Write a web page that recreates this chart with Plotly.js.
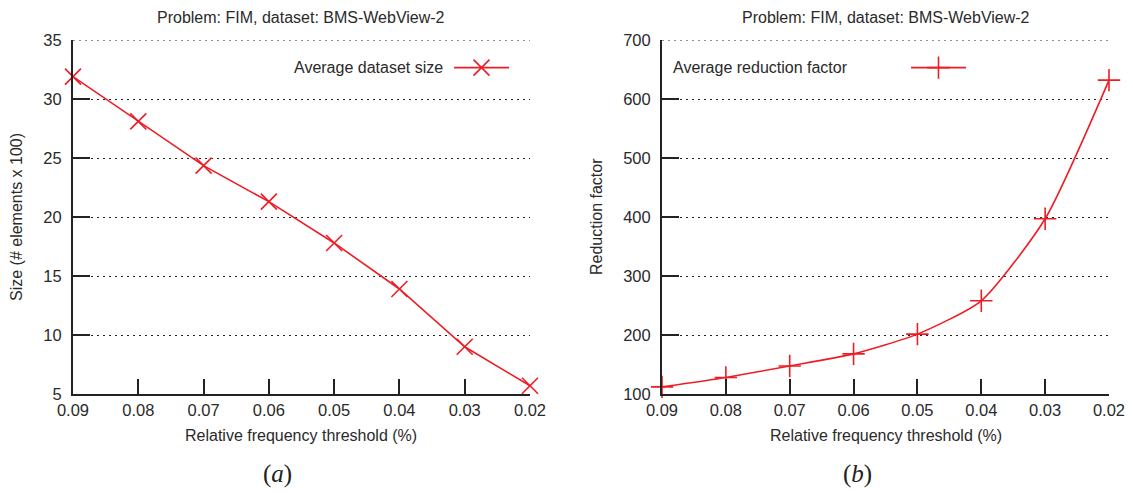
<!DOCTYPE html>
<html>
<head>
<meta charset="utf-8">
<script src="https://cdn.plot.ly/plotly-3.0.1.min.js"></script>
<style>html,body{margin:0;padding:0;background:#fff;}#chart{width:1133px;height:493px;}</style>
</head>
<body>
<div id="chart"></div>
<script>
// ---- data ----
const thresholds = [0.09, 0.08, 0.07, 0.06, 0.05, 0.04, 0.03, 0.02];
const thresholdLabels = ["0.09", "0.08", "0.07", "0.06", "0.05", "0.04", "0.03", "0.02"];
const avgDatasetSize = [31.9, 28.1, 24.35, 21.3, 17.8, 13.9, 9.0, 5.7];
const avgReductionFactor = [112, 128, 147.5, 168, 201.5, 258, 397, 632];
const sizeTicks = [5, 10, 15, 20, 25, 30, 35];
const factorTicks = [100, 200, 300, 400, 500, 600, 700];
const titleText = "Problem: FIM, dataset: BMS-WebView-2";
const xTitleText = "Relative frequency threshold (%)";
const leftYTitle = "Size (# elements x 100)";
const rightYTitle = "Reduction factor";
const leftLegendText = "Average dataset size";
const rightLegendText = "Average reduction factor";

// ---- layout helpers ----
const W = 1133, H = 493, T = 40, B = 99;
const PH = H - T - B;
const px = x => x / W;
const py = y => (H - B - y) / PH;
const RED = '#ee1d25';
const FONT = '"Liberation Sans", Arial, sans-serif';
const TXT = '#2a2a2a';

const traces = [
  {
    x: thresholds, y: avgDatasetSize, xaxis: 'x', yaxis: 'y',
    type: 'scatter', mode: 'lines+markers', name: ' ',
    line: {color: RED, width: 1.6},
    marker: {symbol: 'x-thin', size: 16, line: {color: RED, width: 1.6}, color: RED},
    cliponaxis: false, legend: 'legend'
  },
  {
    x: thresholds, y: avgReductionFactor, xaxis: 'x2', yaxis: 'y2',
    type: 'scatter', mode: 'lines+markers', name: ' ',
    line: {color: RED, width: 1.6, shape: 'spline', smoothing: 0.6},
    marker: {symbol: 'cross-thin', size: 16, line: {color: RED, width: 1.6}, color: RED},
    cliponaxis: false, legend: 'legend2'
  }
];

const xBase = {
  range: [0.09, 0.02], tickvals: thresholds, ticktext: thresholdLabels,
  ticks: 'inside', ticklen: 15, tickwidth: 2, tickcolor: '#222',
  showline: true, linewidth: 2, linecolor: '#222',
  showgrid: false, zeroline: false,
  tickfont: {family: FONT, size: 16.5, color: TXT}
};
const yBase = {
  ticks: 'inside', ticklen: 17, tickwidth: 2, tickcolor: '#222',
  showline: true, linewidth: 2, linecolor: '#222',
  showgrid: true, gridcolor: '#222', gridwidth: 1, griddash: '2px,4px',
  zeroline: false, ticklabelstandoff: 6,
  tickfont: {family: FONT, size: 16.5, color: TXT}
};

const annFont = {family: FONT, size: 16, color: TXT};
const ann = (x, y, text, extra) => Object.assign({
  xref: 'paper', yref: 'paper', x: px(x), y: py(y), text: text,
  showarrow: false, font: annFont, xanchor: 'center', yanchor: 'middle'
}, extra || {});
const capFont = {family: '"Liberation Serif", "DejaVu Serif", serif', size: 25, color: '#222'};

// top gridlines (at the last tick of each y axis), drawn as dotted shapes
const topGrid = (xr, yr, yv) => ({
  type: 'line', xref: xr + ' domain', yref: yr, x0: 0, x1: 1, y0: yv, y1: yv,
  line: {color: '#222', width: 1, dash: '2px,4px'}, layer: 'below'
});

const layout = {
  width: W, height: H,
  margin: {l: 0, r: 0, t: T, b: B, pad: 0},
  paper_bgcolor: '#fff', plot_bgcolor: 'rgba(0,0,0,0)',
  showlegend: true,
  xaxis: Object.assign({}, xBase, {domain: [px(73), px(530)], anchor: 'y'}),
  yaxis: Object.assign({}, yBase, {domain: [0, 1], anchor: 'x', range: [5, 35], tickvals: sizeTicks}),
  xaxis2: Object.assign({}, xBase, {domain: [px(662), px(1109)], anchor: 'y2'}),
  yaxis2: Object.assign({}, yBase, {domain: [0, 1], anchor: 'x2', range: [100, 700], tickvals: factorTicks}),
  legend: {x: px(449), y: py(67.7), xanchor: 'left', yanchor: 'middle', itemwidth: 55,
           bgcolor: 'rgba(0,0,0,0)', font: annFont},
  legend2: {x: px(906), y: py(67.7), xanchor: 'left', yanchor: 'middle', itemwidth: 55,
            bgcolor: 'rgba(0,0,0,0)', font: annFont},
  shapes: [
    topGrid('x', 'y', sizeTicks[sizeTicks.length - 1]),
    topGrid('x2', 'y2', factorTicks[factorTicks.length - 1])
  ],
  annotations: [
    ann(301, 17, titleText),
    ann(886, 17, titleText),
    ann(301, 435, xTitleText),
    ann(886, 435, xTitleText),
    ann(16, 217, leftYTitle, {textangle: -90}),
    ann(596, 217, rightYTitle, {textangle: -90}),
    ann(445, 67.7, leftLegendText, {xanchor: 'right'}),
    ann(671, 67.7, rightLegendText, {xanchor: 'left'}),
    ann(277, 474, '(<i>a</i>)', {font: capFont}),
    ann(857, 474, '(<i>b</i>)', {font: capFont})
  ]
};

Plotly.newPlot('chart', traces, layout, {staticPlot: true, displayModeBar: false});
</script>
</body>
</html>
